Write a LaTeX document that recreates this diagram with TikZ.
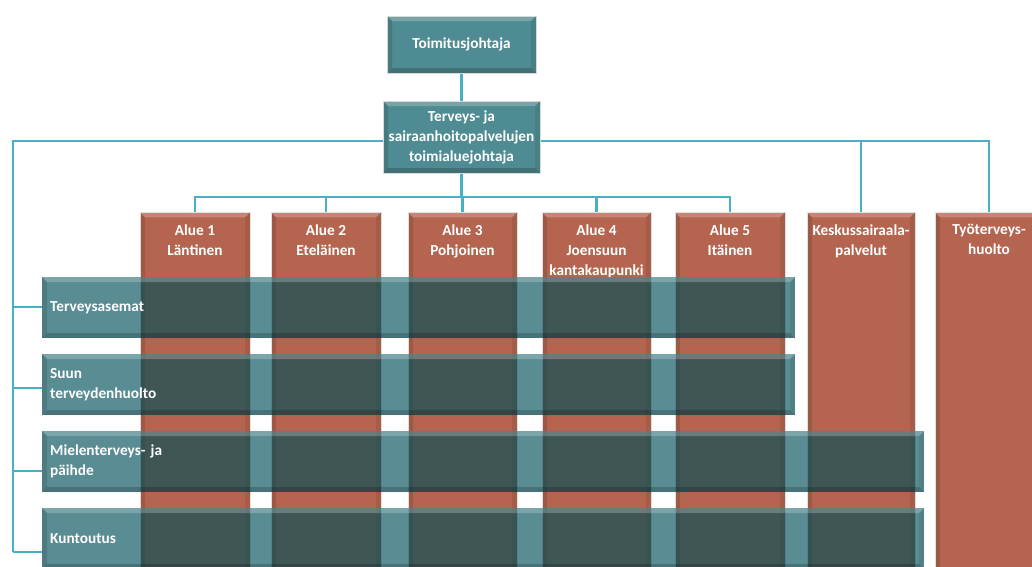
\documentclass[tikz,border=0pt]{standalone}
\usepackage{fontspec}
\setmainfont{Carlito}
\usetikzlibrary{backgrounds}

\definecolor{linkc}{RGB}{70,176,198}
\definecolor{tealbox}{RGB}{79,139,146}
\definecolor{unitc}{RGB}{181,101,79}
\definecolor{bandc}{RGB}{0,78,89}

\tikzset{
  % bevelled edges: light top, shaded left/right/bottom
  bevel/.style={path picture={
    \path (path picture bounding box.north west) coordinate (bvA)
          (path picture bounding box.south east) coordinate (bvB);
    \path (bvA |- bvB) coordinate (bvC) (bvB |- bvA) coordinate (bvD);
    \fill[white, fill opacity=0.22] (bvA) -- (bvD) -- ([shift={(-5pt,-5pt)}]bvD)
         -- ([shift={(5pt,-5pt)}]bvA) -- cycle;
    \fill[black, fill opacity=0.12] (bvA) -- ([shift={(5pt,-5pt)}]bvA)
         -- ([shift={(5pt,5pt)}]bvC) -- (bvC) -- cycle;
    \fill[black, fill opacity=0.08] (bvD) -- (bvB) -- ([shift={(-5pt,5pt)}]bvB)
         -- ([shift={(-5pt,-5pt)}]bvD) -- cycle;
    \fill[black, fill opacity=0.18] (bvC) -- ([shift={(5pt,5pt)}]bvC)
         -- ([shift={(-5pt,5pt)}]bvB) -- (bvB) -- cycle;
  }},
  link/.style={draw=linkc, line width=2.2pt},
  head/.style={rectangle, fill=tealbox, draw=black!15, line width=0.8pt,
    text=white, align=center, inner sep=0pt, bevel},
  unit/.style={rectangle, fill=unitc, draw=black!12, line width=0.6pt,
    minimum height=400pt, inner sep=0pt, anchor=north, bevel},
  unitlabel/.style={text=white, align=center, anchor=north, yshift=-9pt},
  band/.style={rectangle, fill=bandc, fill opacity=0.65, text opacity=1,
    text=white, align=left, inner xsep=8pt, inner ysep=0pt,
    minimum height=61pt, anchor=west, bevel},
}

\begin{document}
\begin{tikzpicture}[x=1pt, y=-1pt, font=\fontsize{15.3}{20}\selectfont\bfseries]
\useasboundingbox (0,0) rectangle (1032,566);
\clip (0,0) rectangle (1032,566);

% management
\node[head, minimum width=149pt, minimum height=57pt] (ceo) at (461.5,44.5) {Toimitusjohtaja};
\node[head, minimum width=157pt, minimum height=72pt] (mgr) at (461.5,137)
  {Terveys- ja\\sairaanhoitopalvelujen\\toimialuejohtaja};

% operating units (columns)
\node[unit, minimum width=110pt, label={[unitlabel]north:Alue 1\\Läntinen}] (a1) at (195,212) {};
\node[unit, minimum width=110pt, label={[unitlabel]north:Alue 2\\Eteläinen}] (a2) at (326,212) {};
\node[unit, minimum width=109pt, label={[unitlabel]north:Alue 3\\Pohjoinen}] (a3) at (462.5,212) {};
\node[unit, minimum width=109pt, label={[unitlabel]north:Alue 4\\Joensuun\\kantakaupunki}] (a4) at (596.5,212) {};
\node[unit, minimum width=110pt, label={[unitlabel]north:Alue 5\\Itäinen}] (a5) at (730,212) {};
\node[unit, minimum width=108pt, label={[unitlabel]north:Keskussairaala-\\palvelut}] (kesk) at (861,212) {};
\node[unit, minimum width=108pt, label={[unitlabel]north:Työterveys-\\huolto}] (tyo) at (989,212) {};

% service lines (translucent bands)
\node[band, text width=737pt] (b1) at (42,307.5) {Terveysasemat};
\node[band, text width=737pt] (b2) at (42,384.5) {Suun\\terveydenhuolto};
\node[band, text width=866pt] (b3) at (42,461.5) {Mielenterveys- ja\\päihde};
\node[band, text width=866pt] (b4) at (42,538.5) {Kuntoutus};

% connectors
\coordinate (hub) at (13,141);
\coordinate (bus) at (0,197);
\coordinate (s1) at (13,307);
\coordinate (s2) at (13,388);
\coordinate (s3) at (13,471);
\coordinate (s4) at (13,552);
\begin{scope}[on background layer]
  \draw[link] (ceo) -- (mgr);
  \draw[link] (s4) -- (hub) -- (hub -| tyo.north) -- (tyo.north);
  \draw[link] (hub -| kesk.north) -- (kesk.north);
  \draw[link] (mgr.south) -- (mgr.south |- bus);
  \draw[link] (a1.north) -- (a1.north |- bus) -- (a5.north |- bus) -- (a5.north);
  \foreach \u in {a2,a3,a4} \draw[link] (\u.north |- bus) -- (\u.north);
  \foreach \s/\b in {s1/b1,s2/b2,s3/b3,s4/b4} \draw[link] (\s) -- (\s -| \b.west);
\end{scope}
\end{tikzpicture}
\end{document}
